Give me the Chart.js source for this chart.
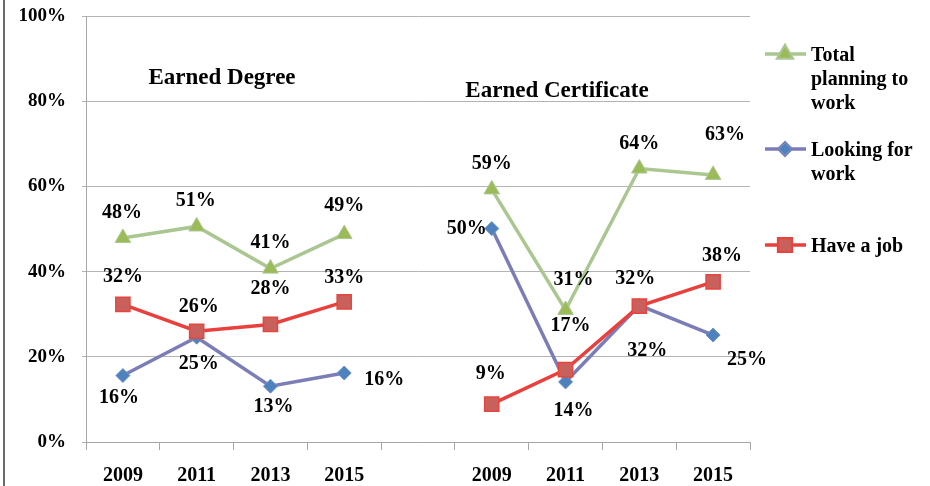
<!DOCTYPE html>
<html>
<head>
<meta charset="utf-8">
<script src="https://cdn.jsdelivr.net/npm/chart.js@4.4.1/dist/chart.umd.min.js"></script>
<style>
  html, body { margin: 0; padding: 0; background: #fff; }
  #wrap { width: 930px; height: 486px; position: relative; }
</style>
</head>
<body>
<div id="wrap"><canvas id="chart" width="930" height="486"></canvas></div>
<script>
// =========================
// Données
// =========================
const years = ["2009", "2011", "2013", "2015", "", "2009", "2011", "2013", "2015"];
const totalPlanning = [47.9, 50.6, 40.7, 48.8, null, 59.3, 31, 64.2, 62.7];
const lookingForWork = [15.6, 24.6, 13.1, 16.2, null, 50.1, 14.1, 32.1, 25.1];
const haveAJob = [32.3, 26, 27.6, 32.9, null, 8.9, 17, 31.9, 37.6];

const seriesNames = [["Total", "planning to", "work"], ["Looking for", "work"], ["Have a job"]];
const groupTitles = ["Earned Degree", "Earned Certificate"];

// décalages des étiquettes (dx, dy) par point
const labelOffsets = [
  [[-1,-25],[-1,-26],[0,-26],[0,-28],null,[0,-26],[8,-30],[0,-25],[12,-40]],
  [[-4,22],[2,27],[3,21],[40,7],null,[-25,0],[8,29],[8,46],[34,25]],
  [[0,-28],[2,-24],[0,-36],[0,-24],null,[-1,-30],[5,-44],[-4,-27],[9,-26]]
];

const SERIF = "'Liberation Serif', 'Times New Roman', serif";
const FONT = "bold 20px " + SERIF;

// =========================
// Plugin : étiquettes, légende, titres
// =========================
const overlay = {
  id: "overlay",
  afterDatasetsDraw(chart) {
    const ctx = chart.ctx;
    ctx.save();
    ctx.font = FONT;
    ctx.fillStyle = "#000";
    ctx.textAlign = "center";
    ctx.textBaseline = "middle";
    chart.data.datasets.forEach((ds, i) => {
      const meta = chart.getDatasetMeta(i);
      meta.data.forEach((pt, j) => {
        const v = ds.data[j];
        if (v === null) return;
        const off = labelOffsets[i][j];
        ctx.fillText(Math.round(v) + "%", pt.x + off[0], pt.y + off[1]);
      });
    });
    ctx.restore();
  },
  afterDraw(chart) {
    const ctx = chart.ctx;
    ctx.save();

    // cadre gauche
    ctx.strokeStyle = "#6b6b6b";
    ctx.lineWidth = 2;
    ctx.beginPath();
    ctx.moveTo(4, 0);
    ctx.lineTo(4, 486);
    ctx.stroke();

    // titres des groupes
    ctx.font = "bold 23px " + SERIF;
    ctx.fillStyle = "#000";
    ctx.textAlign = "center";
    ctx.textBaseline = "middle";
    ctx.fillText(groupTitles[0], 222, 78);
    ctx.fillText(groupTitles[1], 557, 91);

    // légende
    const legendY = [54, 149, 245];
    const lineH = 24;
    ctx.font = FONT;
    ctx.textAlign = "left";
    chart.data.datasets.forEach((ds, i) => {
      const y = legendY[i];
      ctx.strokeStyle = ds.borderColor;
      ctx.lineWidth = ds.borderWidth;
      ctx.beginPath();
      ctx.moveTo(765, y);
      ctx.lineTo(806, y);
      ctx.stroke();
      Chart.helpers.drawPoint(ctx, {
        pointStyle: ds.pointStyle,
        radius: ds.pointRadius - 1,
        borderWidth: 1
      }, 785, y);
      ctx.fillStyle = ds.pointBackgroundColor;
      ctx.strokeStyle = ds.pointBorderColor;
      ctx.lineWidth = 1;
      ctx.fill();
      ctx.stroke();
      ctx.fillStyle = "#000";
      seriesNames[i].forEach((t, k) => {
        ctx.fillText(t, 811, y + 2 + k * lineH);
      });
    });
    ctx.restore();
  }
};

// =========================
// Graphique
// =========================
new Chart(document.getElementById("chart"), {
  type: "line",
  data: {
    labels: years,
    datasets: [
      {
        label: "Total planning to work",
        data: totalPlanning,
        borderColor: "#AAC792",
        borderWidth: 3.5,
        pointStyle: "triangle",
        pointRadius: 9,
        pointBackgroundColor: "#9BBB59",
        pointBorderColor: "#AAC792",
        pointBorderWidth: 1,
        order: 3
      },
      {
        label: "Looking for work",
        data: lookingForWork,
        borderColor: "#7B7DB7",
        borderWidth: 3.5,
        pointStyle: "rectRot",
        pointRadius: 7,
        pointBackgroundColor: "#4F81BD",
        pointBorderColor: "#6A92C8",
        pointBorderWidth: 1,
        order: 2
      },
      {
        label: "Have a job",
        data: haveAJob,
        borderColor: "#E9403E",
        borderWidth: 3.5,
        pointStyle: "rect",
        pointRadius: 10,
        pointBackgroundColor: "#C8605B",
        pointBorderColor: "#E8453F",
        pointBorderWidth: 1.5,
        order: 1
      }
    ]
  },
  options: {
    responsive: false,
    animation: false,
    spanGaps: false,
    layout: { padding: { top: 16, right: 180, left: 0, bottom: 0 } },
    plugins: {
      legend: { display: false },
      tooltip: { enabled: false }
    },
    scales: {
      x: {
        offset: true,
        grid: {
          offset: true,
          drawOnChartArea: false,
          drawTicks: true,
          tickLength: 8,
          color: "#a6a6a6"
        },
        border: { color: "#a6a6a6", width: 1 },
        ticks: {
          color: "#000",
          font: { family: SERIF, size: 20, weight: "bold" },
          padding: 14,
          maxRotation: 0,
          autoSkip: false
        },
        afterFit(scale) { scale.height = 44; }
      },
      y: {
        min: 0,
        max: 100,
        grid: { color: "#b3b3b3", tickLength: 4 },
        border: { color: "#a6a6a6", width: 1 },
        ticks: {
          stepSize: 20,
          color: "#000",
          font: { family: SERIF, size: 19, weight: "bold" },
          padding: 16,
          callback: v => v + "%"
        },
        afterFit(scale) {
          scale.width = 86;
          scale.paddingTop = 0;
          scale.paddingBottom = 0;
        }
      }
    }
  },
  plugins: [overlay]
});
</script>
</body>
</html>
